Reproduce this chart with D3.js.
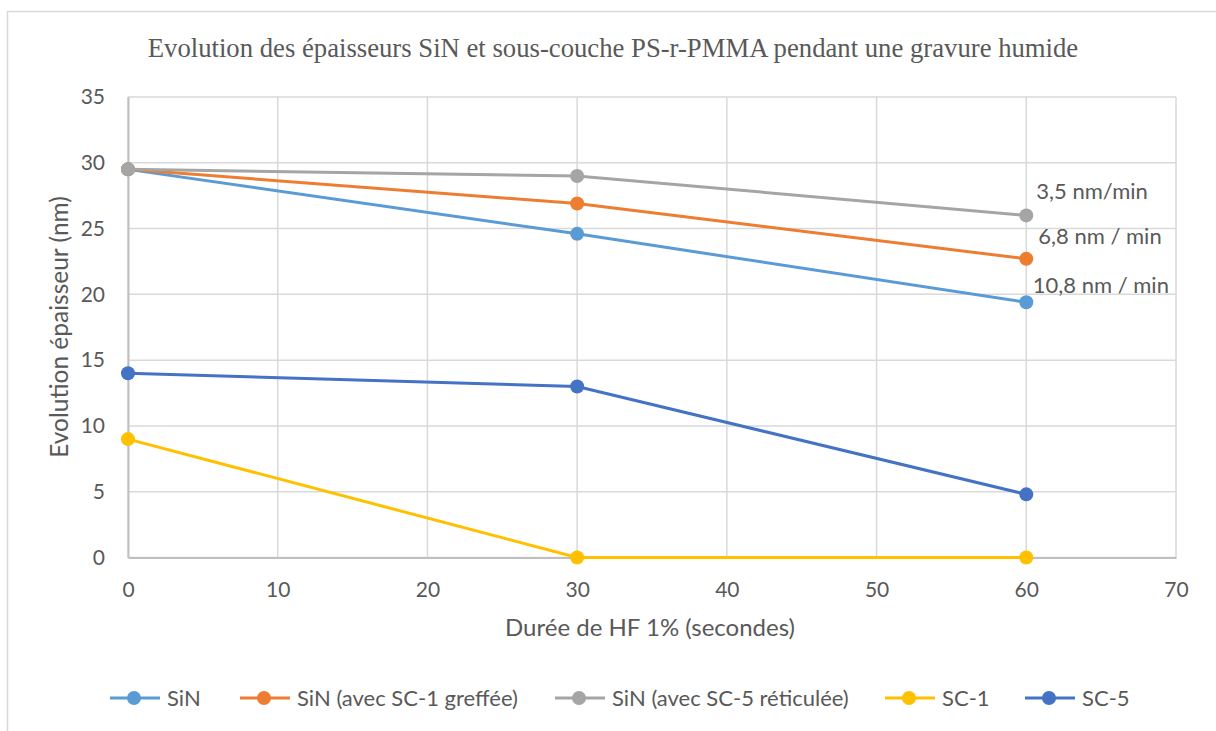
<!DOCTYPE html>
<html><head><meta charset="utf-8">
<script src="https://cdn.jsdelivr.net/npm/d3@7"></script>
<style>body{margin:0;background:#fff}svg{display:block}</style>
</head><body>
<svg id="c" width="1216" height="731"></svg>
<script>
const durations = [0, 30, 60];
const seriesNames = ["SiN", "SiN (avec SC-1 greffée)", "SiN (avec SC-5 réticulée)", "SC-1", "SC-5"];
const sinValues = [29.5, 24.6, 19.4];
const sinSc1Values = [29.5, 26.9, 22.7];
const sinSc5Values = [29.5, 29.0, 26.0];
const sc1Values = [9, 0, 0];
const sc5Values = [14, 13, 4.8];
const seriesColors = ["#5B9BD5", "#ED7D31", "#A5A5A5", "#FFC000", "#4472C4"];
const xTicks = [0, 10, 20, 30, 40, 50, 60, 70];
const yTicks = [0, 5, 10, 15, 20, 25, 30, 35];
const rateLabels = ["10,8 nm / min", "6,8 nm / min", "3,5 nm/min"];

const series = [sinValues, sinSc1Values, sinSc5Values, sc1Values, sc5Values].map((v, i) => ({
  name: seriesNames[i], color: seriesColors[i], values: v.map((y, j) => ({x: durations[j], y}))
}));

const svg = d3.select("#c");
const txt = "#595959";
const font = "Lato, 'Open Sans', sans-serif";

svg.append("rect").attr("x", 7.5).attr("y", 11.5).attr("width", 1230).attr("height", 740)
  .attr("fill", "#fff").attr("stroke", "#d9d9d9").attr("stroke-width", 1.5);

const x = d3.scaleLinear().domain([0, 70]).range([128, 1176]);
const y = d3.scaleLinear().domain([0, 35]).range([557.5, 97]);

// gridlines
svg.append("g").selectAll("line").data(yTicks).join("line")
  .attr("x1", x(0)).attr("x2", x(70)).attr("y1", d => y(d)).attr("y2", d => y(d))
  .attr("stroke", "#d9d9d9").attr("stroke-width", 1.5);
svg.append("g").selectAll("line").data(xTicks).join("line")
  .attr("y1", y(0)).attr("y2", y(35)).attr("x1", d => x(d)).attr("x2", d => x(d))
  .attr("stroke", "#d9d9d9").attr("stroke-width", 1.5);

// axes
const xAxis = svg.append("g").attr("transform", `translate(0,${y(0)})`)
  .call(d3.axisBottom(x).tickValues(xTicks).tickSize(0).tickPadding(25));
const yAxis = svg.append("g").attr("transform", `translate(${x(0)},0)`)
  .call(d3.axisLeft(y).tickValues(yTicks).tickSize(0).tickPadding(23));
[xAxis, yAxis].forEach(a => {
  a.select(".domain").attr("stroke", "#bfbfbf").attr("stroke-width", 2);
  a.selectAll("text").attr("fill", txt).attr("font-family", font).attr("font-size", 21);
});

// lines
const line = d3.line().x(d => x(d.x)).y(d => y(d.y));
const g = svg.append("g");
series.forEach(s => {
  g.append("path").datum(s.values).attr("d", line).attr("fill", "none")
    .attr("stroke", s.color).attr("stroke-width", 3).attr("stroke-linejoin", "round");
  g.selectAll(null).data(s.values).join("circle")
    .attr("cx", d => x(d.x)).attr("cy", d => y(d.y)).attr("r", 7).attr("fill", s.color);
});

// rate labels
const rateOffsets = [[6.5, -9.6], [12, -14.5], [10, -16]];
rateLabels.forEach((t, i) => {
  const last = series[i].values[2];
  svg.append("text").attr("x", x(last.x) + rateOffsets[i][0]).attr("y", y(last.y) + rateOffsets[i][1])
    .attr("fill", txt).attr("font-family", font).attr("font-size", 22).text(t);
});

// title
svg.append("text").attr("x", 613).attr("y", 57).attr("text-anchor", "middle")
  .attr("fill", txt).attr("font-family", "'Liberation Serif', 'Times New Roman', serif").attr("font-size", 26.7)
  .text("Evolution des épaisseurs SiN et sous-couche PS-r-PMMA pendant une gravure humide");

// axis titles
svg.append("text").attr("x", 650).attr("y", 636).attr("text-anchor", "middle")
  .attr("fill", txt).attr("font-family", font).attr("font-size", 24).text("Durée de HF 1% (secondes)");
svg.append("text").attr("transform", "translate(68,327) rotate(-90)").attr("text-anchor", "middle")
  .attr("fill", txt).attr("font-family", font).attr("font-size", 24.5).text("Evolution épaisseur (nm)");

// legend
const legendX = [110, 240, 555, 885, 1025];
const lg = svg.append("g").attr("transform", "translate(0,698)");
series.forEach((s, i) => {
  const it = lg.append("g").attr("transform", `translate(${legendX[i]},0)`);
  it.append("line").attr("x1", 0).attr("x2", 50).attr("stroke", s.color).attr("stroke-width", 3);
  it.append("circle").attr("cx", 24).attr("r", 7).attr("fill", s.color);
  it.append("text").attr("x", 57).attr("y", 8).attr("fill", txt).attr("font-family", font)
    .attr("font-size", 22).text(s.name);
});
</script>
</body></html>
